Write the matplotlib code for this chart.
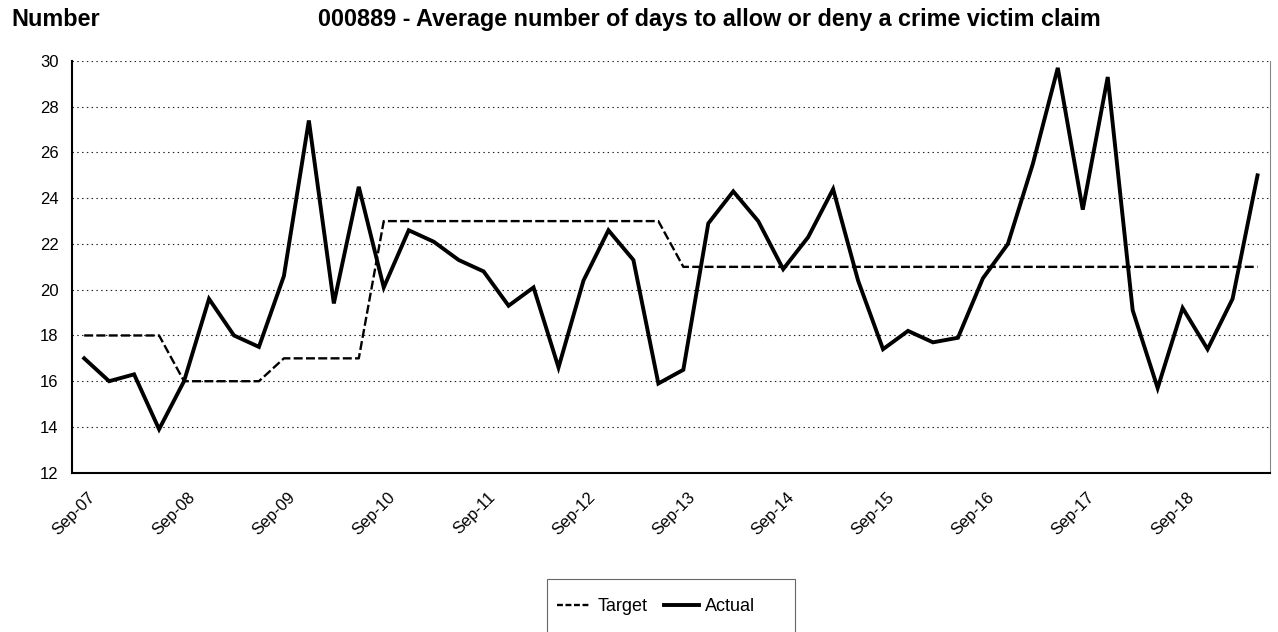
import matplotlib
matplotlib.use('Agg')
import matplotlib.pyplot as plt
import matplotlib.transforms as mtransforms
from matplotlib.patches import Rectangle

plt.rcParams['font.family'] = ['Liberation Sans', 'DejaVu Sans']

# quarterly values, Sep-07 .. Jun-19
actual = [17.0, 16.0, 16.3, 13.9, 16.0, 19.6, 18.0, 17.5, 20.6, 27.4, 19.4, 24.5,
          20.1, 22.6, 22.1, 21.3, 20.8, 19.3, 20.1, 16.6, 20.4, 22.6, 21.3, 15.9,
          16.5, 22.9, 24.3, 23.0, 20.9, 22.3, 24.4, 20.4, 17.4, 18.2, 17.7, 17.9,
          20.5, 22.0, 25.5, 29.7, 23.5, 29.3, 19.1, 15.7, 19.2, 17.4, 19.6, 25.0]
target = [18, 18, 18, 18, 16, 16, 16, 16, 17, 17, 17, 17,
          23, 23, 23, 23, 23, 23, 23, 23, 23, 23, 23, 23,
          21, 21, 21, 21, 21, 21, 21, 21, 21, 21, 21, 21,
          21, 21, 21, 21, 21, 21, 21, 21, 21, 21, 21, 21]
tick_pos = [0, 4, 8, 12, 16, 20, 24, 28, 32, 36, 40, 44]
tick_labels = ['Sep-07', 'Sep-08', 'Sep-09', 'Sep-10', 'Sep-11', 'Sep-12',
               'Sep-13', 'Sep-14', 'Sep-15', 'Sep-16', 'Sep-17', 'Sep-18']

W, H = 1278, 632
fig = plt.figure(figsize=(W / 100, H / 100), dpi=100)
ax = fig.add_axes([71.7 / W, 1 - 472.7 / H, (1270 - 71.7) / W, 411.7 / H])

x = range(len(actual))
ax.plot(x, target, color='black', lw=1.7, dashes=(3.8, 1.4), label='Target')
ax.plot(x, actual, color='black', lw=2.8, solid_joinstyle='miter', label='Actual')

ax.set_xlim(-0.5, len(actual) - 0.5)
ax.set_ylim(12, 30)
ax.tick_params(axis='both', length=0, labelsize=12)
ax.tick_params(axis='x', pad=0)
ax.tick_params(axis='y', pad=9.5)
ax.set_yticks(range(12, 31, 2))
ax.set_xticks(tick_pos)
ax.set_xticklabels(tick_labels, rotation=45, ha='right', va='center',
                   rotation_mode='anchor', fontsize=12)
off = mtransforms.ScaledTranslation(9 / 100, -22 / 100, fig.dpi_scale_trans)
for lab in ax.get_xticklabels():
    lab.set_transform(lab.get_transform() + off)

ax.yaxis.grid(True, color='#222222', lw=0.8, linestyle=(0, (1.3, 3)))
ax.set_axisbelow(True)
ax.spines['top'].set_visible(False)
ax.spines['right'].set_color('#888888')
ax.spines['right'].set_linewidth(0.8)
ax.spines['left'].set_linewidth(1.5)
ax.spines['bottom'].set_linewidth(1.5)

fig.text(11 / W, 1 - 8 / H, 'Number', fontsize=16.8, fontweight='bold', va='top')
fig.text(318 / W, 1 - 8 / H,
         '000889 - Average number of days to allow or deny a crime victim claim',
         fontsize=16.8, fontweight='bold', va='top', ha='left')

# legend box (runs off the bottom edge like the original)
fig.patches.append(Rectangle((546.7 / W, -0.05), (795 - 546.7) / W, 0.05 + 1 - 579 / H,
                             transform=fig.transFigure, fill=False,
                             edgecolor='#666666', lw=0.8))
leg = fig.legend(loc='center left', bbox_to_anchor=(557 / W, 1 - 606.5 / H),
                 ncol=2, frameon=False, fontsize=13,
                 handlelength=1.9, handletextpad=0.33, columnspacing=0.95,
                 borderpad=0, borderaxespad=0)
leg.get_lines()[0].set_dashes((2.5, 1.1))

fig.savefig('out.png', dpi=100)
